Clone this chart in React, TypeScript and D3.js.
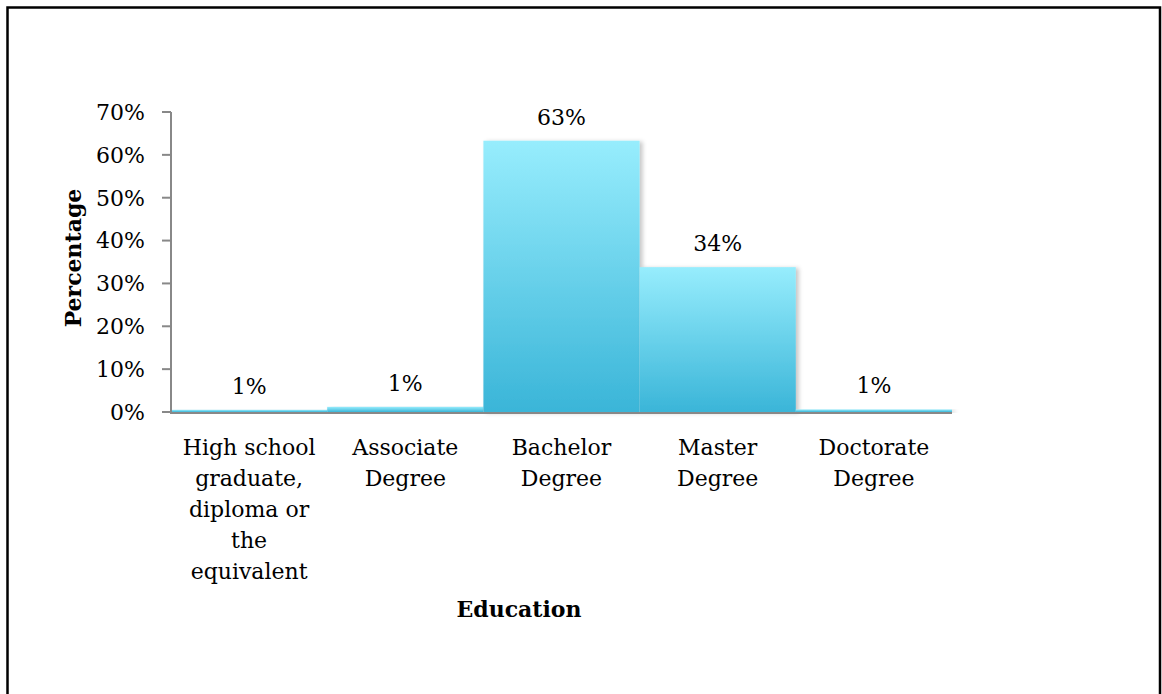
import React from "react";
import * as d3 from "d3";

const categories = [
  "High school\ngraduate,\ndiploma or\nthe\nequivalent",
  "Associate\nDegree",
  "Bachelor\nDegree",
  "Master\nDegree",
  "Doctorate\nDegree",
];
const values = [0.5, 1.2, 63.3, 33.8, 0.6];
const valueLabels = ["1%", "1%", "63%", "34%", "1%"];
const yTicks = [0, 10, 20, 30, 40, 50, 60, 70];
const yTitle = "Percentage";
const xTitle = "Education";

const W = 1162;
const H = 694;
const plot = { left: 171, right: 952, top: 112, bottom: 412 };
const FONT = "'DejaVu Serif', serif";

export default function App() {
  const x = d3
    .scaleBand<string>()
    .domain(categories)
    .range([plot.left, plot.right])
    .paddingInner(0)
    .paddingOuter(0);
  const y = d3.scaleLinear().domain([0, 70]).range([plot.bottom, plot.top]);
  const fmt = (v: number) => `${v}%`;

  return (
    <svg
      width={W}
      height={H}
      style={{ position: "absolute", left: 0, top: 0, background: "#fff" }}
      fontFamily={FONT}
    >
      <defs>
        <linearGradient id="barGrad" x1="0" y1="0" x2="0" y2="1">
          <stop offset="0%" stopColor="#97EDFD" />
          <stop offset="100%" stopColor="#3AB5D8" />
        </linearGradient>
        <filter id="shadow" x="-10%" y="-10%" width="130%" height="130%">
          <feDropShadow dx="3" dy="1" stdDeviation="2" floodColor="#000" floodOpacity="0.22" />
        </filter>
      </defs>
      <rect x={0} y={0} width={W} height={H} fill="#fff" />
      <rect x={7.5} y={7.5} width={1152.5} height={720} fill="none" stroke="#000" strokeWidth={2.5} />

      {/* bars */}
      {categories.map((c, i) => (
        <rect
          key={c}
          x={x(c)!}
          y={y(values[i])}
          width={x.bandwidth()}
          height={plot.bottom - y(values[i])}
          fill="url(#barGrad)"
          filter="url(#shadow)"
        />
      ))}

      {/* axes */}
      <line x1={plot.left} x2={plot.right} y1={plot.bottom + 1} y2={plot.bottom + 1} stroke="#888" strokeWidth={2} />
      <line x1={plot.left} x2={plot.left} y1={plot.top} y2={plot.bottom + 2} stroke="#888" strokeWidth={2} />
      {yTicks.map((t) => (
        <g key={t}>
          <line x1={plot.left - 9} x2={plot.left} y1={y(t)} y2={y(t)} stroke="#888" strokeWidth={2} />
          <text x={plot.left - 26} y={y(t)} dy="0.36em" textAnchor="end" fontSize={22} fill="#000">
            {fmt(t)}
          </text>
        </g>
      ))}

      {/* value labels */}
      {categories.map((c, i) => (
        <text
          key={"v" + i}
          x={x(c)! + x.bandwidth() / 2}
          y={y(values[i]) - 16}
          textAnchor="middle"
          fontSize={22}
          fill="#000"
        >
          {valueLabels[i]}
        </text>
      ))}

      {/* category labels */}
      {categories.map((c) => (
        <text key={"c" + c} textAnchor="middle" fontSize={22} fill="#000">
          {c.split("\n").map((line, j) => (
            <tspan key={j} x={x(c)! + x.bandwidth() / 2} y={455 + j * 31}>
              {line}
            </tspan>
          ))}
        </text>
      ))}

      {/* axis titles */}
      <text x={519} y={617} textAnchor="middle" fontSize={22} fontWeight="bold" fill="#000">
        {xTitle}
      </text>
      <text
        transform={`translate(81, ${258}) rotate(-90)`}
        textAnchor="middle"
        fontSize={22}
        fontWeight="bold"
        fill="#000"
      >
        {yTitle}
      </text>
    </svg>
  );
}
